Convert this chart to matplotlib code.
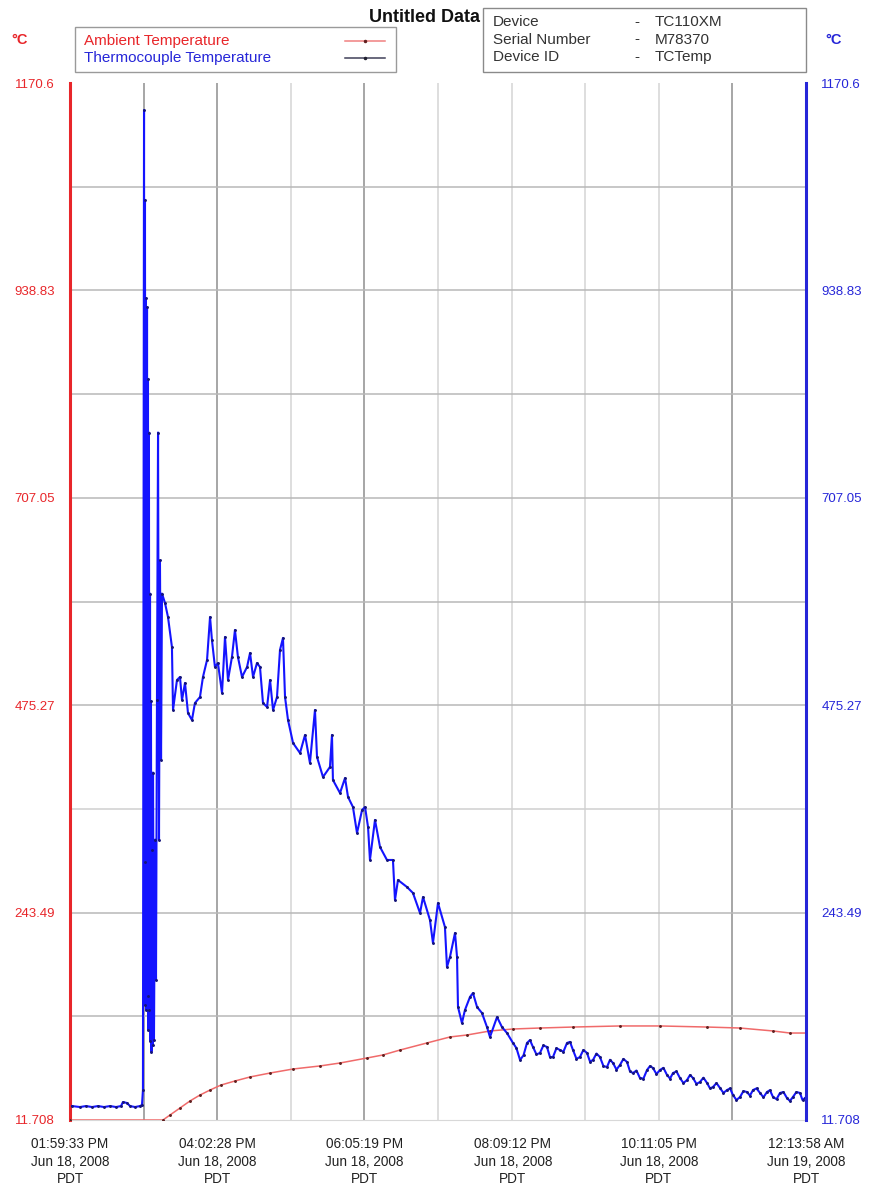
import numpy as np
import matplotlib.pyplot as plt
from matplotlib.patches import Rectangle
from matplotlib.lines import Line2D

plt.rcParams['font.family'] = ['Liberation Sans', 'DejaVu Sans']

# elapsed minutes since 01:59:33 PM, Jun 18 2008
ambient_t = [0.0, 77.6, 83.5, 91.8, 100.2, 108.5, 116.9, 126.1, 137.7, 150.3,
             167.0, 186.2, 208.7, 225.4, 247.9, 261.3, 275.5, 298.0, 317.2, 331.4,
             350.6, 369.8, 392.3, 419.9, 459.1, 492.5, 531.8, 559.3, 586.9, 601.0, 614.4]
ambient_c = [11.7, 11.7, 17.3, 25.1, 33.0, 39.6, 45.2, 50.8, 55.3, 59.8,
             64.2, 68.7, 72.1, 75.4, 81.0, 84.4, 89.9, 97.8, 104.5, 106.7,
             111.2, 113.4, 114.5, 115.6, 116.8, 116.8, 115.6, 114.5, 111.2, 108.9, 108.9]

tc_t = [1.7, 8.3, 13.4, 18.4, 23.4, 28.4, 33.4, 38.4, 42.6, 44.2, 47.6, 50.1, 54.3, 58.4, 60.1, 60.9,
        61.8, 62.2, 62.6, 63.0, 63.4, 63.8, 64.3, 64.7, 65.1, 65.5, 65.9, 66.3, 66.8, 67.2, 67.6, 68.0,
        68.5, 68.9, 69.3, 70.1, 71.0, 71.8, 72.6, 73.5, 74.3, 75.1, 76.0, 76.8,
        79.3, 81.8, 85.1, 86.0, 89.3, 91.8, 93.5, 96.0, 98.5, 101.8, 104.3, 108.5, 111.0, 114.4,
        116.9, 118.5, 121.0, 123.5, 126.9, 129.4, 131.9, 135.2, 137.7, 140.2, 143.6, 147.8, 150.3,
        152.8, 156.1, 158.6, 161.1, 164.5, 167.0, 169.5, 172.8, 175.3, 177.8, 179.5, 182.0,
        186.2, 192.0, 196.2, 200.3, 204.5, 206.2, 211.2, 217.0, 218.7, 219.5, 225.4, 229.6, 232.1,
        236.2, 239.6, 243.8, 246.3, 248.8, 250.4, 254.6, 258.8, 264.6, 269.6, 271.3, 273.8, 281.3,
        286.3, 292.2, 294.7, 300.5, 303.0, 307.2, 313.0, 314.7, 317.2, 321.4, 323.1, 323.9, 327.2,
        329.7, 333.9, 336.4, 339.8, 343.9, 348.1, 350.6, 356.5, 360.6, 364.8,
        369.8, 372.7, 375.7, 378.6, 381.5, 384.0, 386.5, 389.4, 392.3, 395.2, 398.2, 400.7, 403.2,
        406.1, 409.0, 411.9, 414.9, 417.4, 419.9, 422.8, 425.7, 428.6, 431.6, 434.1, 436.6, 439.5,
        442.4, 445.3, 448.3, 450.8, 453.3, 456.2, 459.1, 462.0, 465.0, 467.5, 470.0, 472.9, 475.8,
        478.7, 481.7, 484.2, 486.7, 489.6, 492.5, 495.4, 498.4, 500.9, 503.4, 506.3, 509.2, 512.1,
        515.1, 517.6, 520.1, 523.0, 525.9, 528.8, 531.8, 534.3, 536.8, 539.7, 542.6, 545.5, 548.5,
        551.0, 553.5, 556.4, 559.3, 562.2, 565.1, 567.6, 570.2, 573.1, 576.0, 578.9, 581.8, 584.3,
        586.9, 589.8, 592.7, 595.6, 598.5, 601.0, 603.5, 606.4, 609.4, 611.5, 613.6]
tc_c = [27.3, 26.2, 27.3, 26.2, 27.3, 26.2, 27.3, 26.2, 27.3, 31.8, 30.7, 27.3, 26.2, 27.3, 28.5, 45.2,
        1140.4, 300.0, 1040.0, 140.0, 930.0, 135.0, 920.0, 150.0, 840.0, 112.0, 780.0, 135.0, 600.0, 100.0, 480.0, 88.0,
        313.0, 95.0, 400.0, 101.0, 325.0, 168.0, 481.0, 780.0, 325.0, 637.0, 414.0, 600.0,
        589.5, 573.8, 540.3, 469.9, 503.4, 506.8, 481.1, 500.1, 466.5, 458.7, 477.7, 484.4, 506.8, 525.8,
        573.8, 548.1, 518.0, 522.4, 488.9, 551.5, 503.4, 529.1, 559.3, 529.1, 506.8, 518.0, 533.6,
        506.8, 522.4, 518.0, 477.7, 473.3, 503.4, 469.9, 484.4, 537.0, 550.4, 484.4, 458.7,
        433.0, 421.8, 442.0, 410.7, 469.9, 417.4, 395.0, 406.2, 442.0, 391.7, 377.1, 393.9, 372.7,
        361.5, 332.4, 358.1, 361.5, 339.2, 302.3, 347.0, 316.8, 302.3, 302.3, 257.6, 279.9, 272.1,
        265.4, 243.0, 260.9, 235.2, 209.5, 254.2, 227.4, 182.7, 193.9, 220.7, 193.9, 138.0, 120.1,
        134.6, 149.2, 153.6, 138.0, 131.3, 115.6, 104.5, 126.8, 115.6, 108.9,
        97.8, 92.0, 78.8, 84.0, 97.8, 101.0, 93.3, 85.0, 86.6, 95.0, 93.3, 82.0, 82.1,
        92.0, 89.9, 88.0, 97.8, 99.0, 89.9, 80.0, 82.1, 90.0, 86.6, 77.0, 78.8, 86.0,
        82.1, 72.0, 70.9, 79.0, 75.4, 68.0, 73.2, 80.0, 76.5, 66.0, 64.2, 67.0, 58.6,
        58.0, 67.6, 72.0, 69.8, 63.0, 67.6, 70.0, 62.0, 58.0, 64.2, 66.0, 58.6, 53.0,
        56.4, 62.0, 58.6, 52.0, 54.2, 59.0, 53.1, 47.0, 48.6, 53.0, 47.5, 42.0, 45.2,
        47.0, 39.6, 34.0, 37.4, 44.0, 43.0, 39.0, 45.2, 47.0, 41.9, 37.0, 43.0, 45.0,
        37.4, 35.0, 41.9, 43.0, 36.3, 33.0, 37.4, 43.0, 41.9, 34.0, 36.3]

y_min, y_max = 11.708, 1170.6
y_ticks = [11.708, 243.49, 475.27, 707.05, 938.83, 1170.6]
y_labels = ['11.708', '243.49', '475.27', '707.05', '938.83', '1170.6']

x_ticks = [0.0, 122.92, 245.77, 369.65, 491.53, 614.42]
x_labels = ['01:59:33 PM\nJun 18, 2008\nPDT', '04:02:28 PM\nJun 18, 2008\nPDT',
            '06:05:19 PM\nJun 18, 2008\nPDT', '08:09:12 PM\nJun 18, 2008\nPDT',
            '10:11:05 PM\nJun 18, 2008\nPDT', '12:13:58 AM\nJun 19, 2008\nPDT']

device_keys = ['Device', 'Serial Number', 'Device ID']
device_vals = ['TC110XM', 'M78370', 'TCTemp']

RED = '#e8262a'
BLUE = '#2626d8'

W, H = 873, 1188
fig = plt.figure(figsize=(W / 100, H / 100), dpi=100)
fig.patch.set_facecolor('white')


def fx(px):
    return px / W


def fy(py):
    return 1 - py / H


ax = fig.add_axes([fx(70), fy(1120), fx(806) - fx(70), fy(83) - fy(1120)])
ax.set_xlim(x_ticks[0], x_ticks[-1])
ax.set_ylim(y_min, y_max)

# grid: ten divisions each way, some vertical lines rendered darker
vshade = ['#8e8e8e', '#8e8e8e', '#d4d4d4', '#8e8e8e', '#d4d4d4', '#d4d4d4', '#d4d4d4', '#d4d4d4', '#8e8e8e']
for xv, c in zip(np.linspace(x_ticks[0], x_ticks[-1], 11)[1:-1], vshade):
    ax.axvline(xv, color=c, lw=1.1, zorder=1)
hshade = ['#b8b8b8', '#b8b8b8', '#d0d0d0', '#b8b8b8', '#b8b8b8', '#b8b8b8', '#b8b8b8', '#b8b8b8', '#b8b8b8']
for yv, c in zip(np.linspace(y_min, y_max, 11)[1:-1], hshade):
    ax.axhline(yv, color=c, lw=1.1, zorder=1)

ax.plot(ambient_t, ambient_c, color='#f06a6a', lw=1.1, marker='.', ms=2.2,
        mfc='#602020', mec='#602020', zorder=3)
ax.plot(tc_t, tc_c, color='#1414ff', lw=1.5, marker='.', ms=2.2,
        mfc='#15157a', mec='#15157a', zorder=4)

ax.spines['top'].set_visible(False)
ax.spines['bottom'].set_color('#d8d8d8')
ax.spines['left'].set_color(RED)
ax.spines['left'].set_linewidth(2.2)
ax.spines['right'].set_visible(False)

ax.set_yticks(y_ticks)
ax.set_yticklabels(y_labels)
ax.tick_params(axis='y', length=0, pad=11, labelsize=9.5, labelcolor=RED)
ax.set_xticks(x_ticks)
ax.set_xticklabels(x_labels, linespacing=1.3)
ax.tick_params(axis='x', length=0, pad=12.5, labelsize=9.8, labelcolor='#222222')

axr = ax.twinx()
axr.set_ylim(y_min, y_max)
axr.set_yticks(y_ticks)
axr.set_yticklabels(y_labels)
axr.tick_params(axis='y', length=0, pad=11, labelsize=9.5, labelcolor=BLUE)
for s in ['top', 'left', 'bottom']:
    axr.spines[s].set_visible(False)
axr.spines['right'].set_color(BLUE)
axr.spines['right'].set_linewidth(2.2)

# header texts
fig.text(fx(11), fy(40), '°C', color=RED, fontsize=10.5, fontweight='bold', va='center')
fig.text(fx(825), fy(40), '°C', color=BLUE, fontsize=10.5, fontweight='bold', va='center')
fig.text(fx(369), fy(18), 'Untitled Data', fontsize=13, fontweight='bold', va='center',
         color='#111111', zorder=2)

# series legend box
fig.patches.append(Rectangle((fx(75), fy(72)), fx(396) - fx(75), fy(27) - fy(72),
                             transform=fig.transFigure, facecolor='white',
                             edgecolor='#9a9a9a', lw=1.0, zorder=3))
fig.text(fx(84), fy(41), 'Ambient Temperature', color=RED, fontsize=11, va='center', zorder=5)
fig.text(fx(84), fy(58), 'Thermocouple Temperature', color=BLUE, fontsize=11, va='center', zorder=5)
fig.lines.append(Line2D([fx(345), fx(385)], [fy(41), fy(41)], transform=fig.transFigure,
                        color='#f08080', lw=1.1, zorder=5))
fig.lines.append(Line2D([fx(365)], [fy(41)], transform=fig.transFigure, marker='.',
                        ms=3, color='#602020', zorder=6))
fig.lines.append(Line2D([fx(345), fx(385)], [fy(58), fy(58)], transform=fig.transFigure,
                        color='#404058', lw=1.1, zorder=5))
fig.lines.append(Line2D([fx(365)], [fy(58)], transform=fig.transFigure, marker='.',
                        ms=3, color='#202030', zorder=6))

# device info box
fig.patches.append(Rectangle((fx(483), fy(72)), fx(806) - fx(483), fy(8) - fy(72),
                             transform=fig.transFigure, facecolor='white',
                             edgecolor='#8a8a8a', lw=1.0, zorder=4))
for i, (k, v) in enumerate(zip(device_keys, device_vals)):
    yy = fy(22 + i * 17.5)
    fig.text(fx(493), yy, k, color='#333333', fontsize=11, va='center', zorder=5)
    fig.text(fx(634), yy, '-', color='#333333', fontsize=11, va='center', zorder=5)
    fig.text(fx(655), yy, v, color='#333333', fontsize=11, va='center', zorder=5)

fig.savefig('out.png', dpi=100)
